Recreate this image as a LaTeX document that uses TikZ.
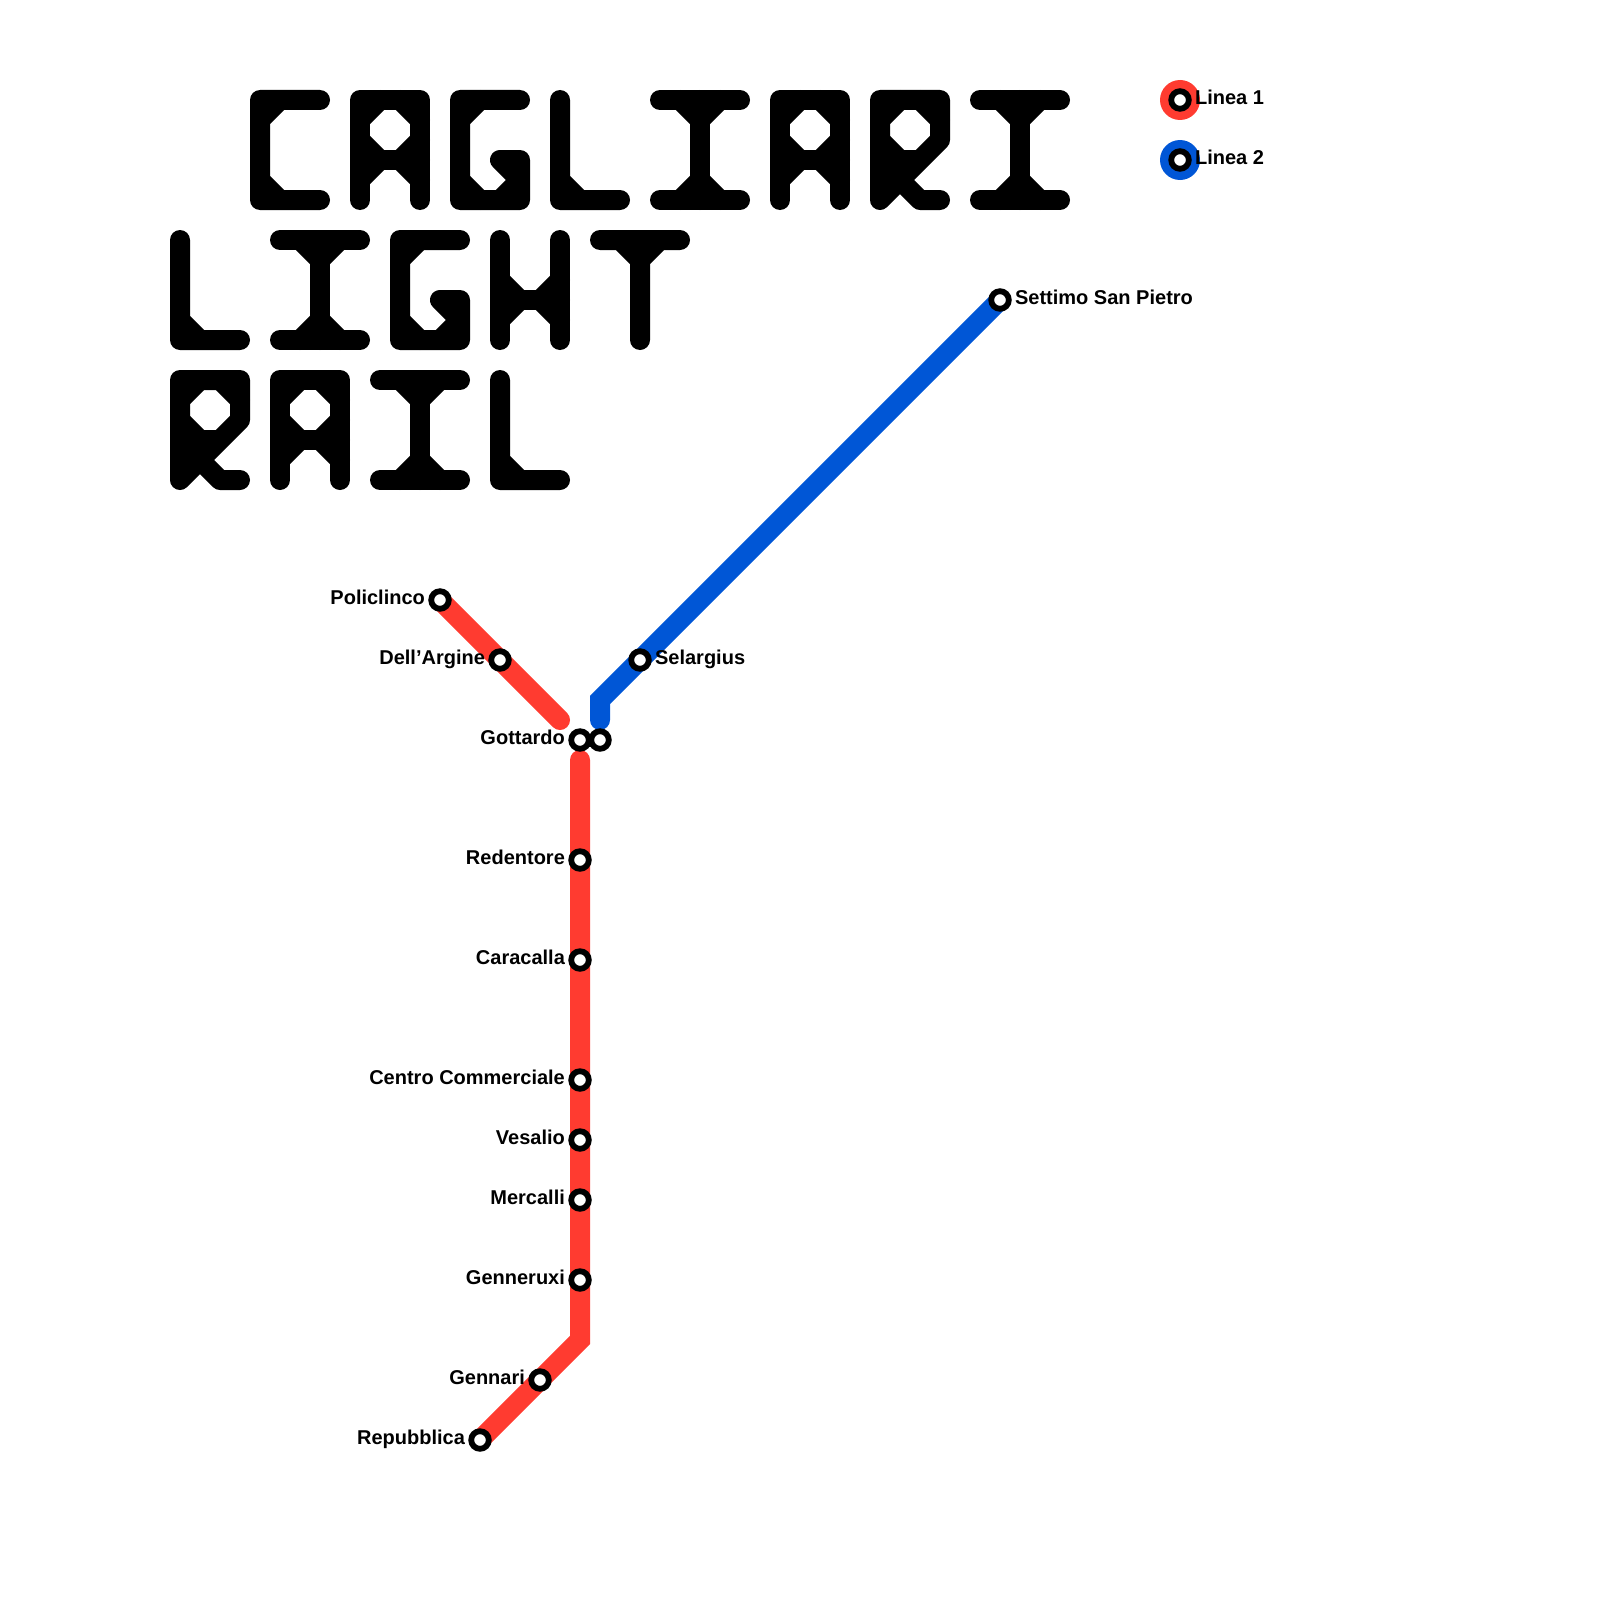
\documentclass[tikz,border=0pt]{standalone}
\usepackage{fontspec}
\setmainfont{Liberation Sans}
\usetikzlibrary{backgrounds}
\definecolor{metroRed}{HTML}{FF3B30}
\definecolor{metroBlue}{HTML}{0056D6}

\tikzset{
  ltrstroke/.style={black,line width=10pt,line cap=round,line join=round},
  pics/ltrC/.style={code={
    \draw[ltrstroke] (3,0)--(0,0)--(0,5)--(3,5) (0,1)--(1,0) (0,4)--(1,5);}},
  pics/ltrA/.style={code={
    \draw[ltrstroke] (0,5)--(0,0)--(3,0)--(3,5) (0,3)--(3,3);
    \draw[ltrstroke] (0,1)--(1,0) (2,0)--(3,1) (0,2)--(1,3)--(0,4) (3,2)--(2,3)--(3,4);}},
  pics/ltrG/.style={code={
    \draw[ltrstroke] (3,0)--(0,0)--(0,5)--(3,5)--(3,3)--(2,3)--(3,4)--(2,5);
    \draw[ltrstroke] (0,1)--(1,0) (0,4)--(1,5);}},
  pics/ltrL/.style={code={
    \draw[ltrstroke] (0,0)--(0,5)--(3,5) (0,4)--(1,5);}},
  pics/ltrI/.style={code={
    \draw[ltrstroke] (0,0)--(4,0) (0,5)--(4,5) (2,0)--(2,5);
    \draw[ltrstroke] (1,0)--(2,1)--(3,0) (1,5)--(2,4)--(3,5);}},
  pics/ltrR/.style={code={
    \draw[ltrstroke] (0,5)--(0,0)--(3,0)--(3,2)--(1,4)--(2,5)--(3,5) (0,3)--(2,3) (1,3)--(1,4)--(0,5);
    \draw[ltrstroke] (0,1)--(1,0) (2,0)--(3,1) (0,2)--(1,3);}},
  pics/ltrH/.style={code={
    \draw[ltrstroke] (0,0)--(0,5) (3,0)--(3,5) (0,3)--(3,3);
    \draw[ltrstroke] (0,2)--(1,3)--(0,4) (3,2)--(2,3)--(3,4);}},
  pics/ltrT/.style={code={
    \draw[ltrstroke] (0,0)--(4,0) (2,0)--(2,5) (1,0)--(2,1)--(3,0);}}
}

\begin{document}
\begin{tikzpicture}[x=10pt,y=-10pt,
  stn/.style={circle,draw=black,fill=white,line width=2.9pt,inner sep=0pt,minimum size=8.8pt},
  lgd/.style={circle,inner sep=0pt,minimum size=20pt},
  lbl/.style={font=\bfseries\fontsize{10pt}{12pt}\selectfont,inner sep=0pt,text height=7pt,text depth=2.5pt},
  lbll/.style={stn,label={[lbl,label distance=1.5pt]left:#1}},
  lblr/.style={stn,label={[lbl,label distance=1.5pt]right:#1}},
  redline/.style={metroRed,line width=10pt,line cap=round},
  blueline/.style={metroBlue,line width=10pt,line cap=round}]
  \useasboundingbox (0,0) rectangle (80,80);

  % title
  \pic at (13,5) {ltrC};
  \pic at (18,5) {ltrA};
  \pic at (23,5) {ltrG};
  \pic at (28,5) {ltrL};
  \pic at (33,5) {ltrI};
  \pic at (39,5) {ltrA};
  \pic at (44,5) {ltrR};
  \pic at (49,5) {ltrI};

  \pic at (9,12) {ltrL};
  \pic at (14,12) {ltrI};
  \pic at (20,12) {ltrG};
  \pic at (25,12) {ltrH};
  \pic at (30,12) {ltrT};

  \pic at (9,19) {ltrR};
  \pic at (14,19) {ltrA};
  \pic at (19,19) {ltrI};
  \pic at (25,19) {ltrL};

  % stations
  \node[lbll=Policlinco] (polic) at (22,30) {};
  \node[lbll=Dell’Argine] (dell) at (25,33) {};
  \node[lbll=Gottardo] (gottR) at (29,37) {};
  \node[stn] (gottB) at (30,37) {};
  \node[lbll=Redentore] (rede) at (29,43) {};
  \node[lbll=Caracalla] (cara) at (29,48) {};
  \node[lbll=Centro Commerciale] (cent) at (29,54) {};
  \node[lbll=Vesalio] (vesa) at (29,57) {};
  \node[lbll=Mercalli] (merc) at (29,60) {};
  \node[lbll=Genneruxi] (genx) at (29,64) {};
  \node[lbll=Gennari] (genn) at (27,69) {};
  \node[lbll=Repubblica] (repu) at (24,72) {};
  \node[lblr=Selargius] (sela) at (32,33) {};
  \node[lblr=Settimo San Pietro] (sett) at (50,15) {};

  \coordinate (redTop) at (28,36);
  \coordinate (redStart) at (29,38);
  \coordinate (redBend) at (29,67);
  \coordinate (blueBend) at (30,35);
  \coordinate (blueEnd) at (30,36);

  \begin{scope}[on background layer]
    \draw[redline] (polic.center) -- (dell.center) -- (redTop);
    \draw[redline] (redStart) -- (rede.center) -- (cara.center) -- (cent.center)
          -- (vesa.center) -- (merc.center) -- (genx.center) -- (redBend)
          -- (genn.center) -- (repu.center);
    \draw[blueline] (sett.center) -- (sela.center) -- (blueBend) -- (blueEnd);
    \draw[black,line width=6.5pt] (gottR.center) -- (gottB.center);
  \end{scope}

  % legend
  \node[lgd,fill=metroRed] (lgdRed) at (59,5) {};
  \node[lblr=Linea 1] (lgdRedStn) at (lgdRed) {};
  \node[lgd,fill=metroBlue] (lgdBlue) at (59,8) {};
  \node[lblr=Linea 2] (lgdBlueStn) at (lgdBlue) {};
\end{tikzpicture}
\end{document}
